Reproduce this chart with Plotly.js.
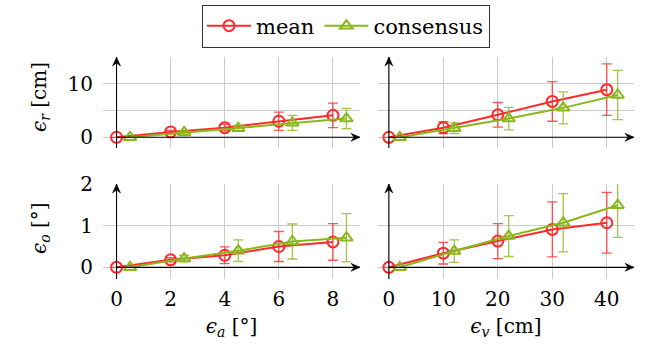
<!DOCTYPE html>
<html><head><meta charset="utf-8">
<script src="https://cdn.plot.ly/plotly-3.0.1.min.js"></script>
<style>html,body{margin:0;padding:0;background:#fff}</style>
</head><body>
<div id="chart" style="width:646px;height:346px"></div>
<script>
// x values (consensus drawn slightly shifted as in the reference)
const xA = [0, 2, 4, 6, 8];
const xAcons = [0.5, 2.5, 4.5, 6.5, 8.5];
const xV = [0, 10, 20, 30, 40];
const xVcons = [2, 12, 22, 32, 42];

// eps_r vs eps_a
const rA_mean = [0, 1.0, 1.8, 3.0, 4.1];
const rA_mean_err = [0, 0.3, 0.6, 1.7, 2.3];
const rA_cons = [0, 0.9, 1.7, 2.7, 3.5];
const rA_cons_err = [0, 0.3, 0.5, 1.4, 1.9];
// eps_r vs eps_v
const rV_mean = [0, 1.8, 4.2, 6.7, 8.9];
const rV_mean_err = [0, 1.1, 2.3, 3.7, 4.8];
const rV_cons = [0, 1.7, 3.5, 5.5, 7.9];
const rV_cons_err = [0, 1.0, 2.1, 3.0, 4.6];
// eps_o vs eps_a
const oA_mean = [0, 0.18, 0.29, 0.50, 0.61];
const oA_mean_err = [0, 0.05, 0.2, 0.36, 0.44];
const oA_cons = [0, 0.21, 0.40, 0.62, 0.71];
const oA_cons_err = [0, 0.08, 0.26, 0.42, 0.58];
// eps_o vs eps_v
const oV_mean = [0, 0.34, 0.63, 0.91, 1.07];
const oV_mean_err = [0, 0.26, 0.42, 0.66, 0.73];
const oV_cons = [0, 0.39, 0.75, 1.07, 1.49];
const oV_cons_err = [0, 0.27, 0.49, 0.70, 0.77];

const seriesNames = ['mean', 'consensus'];
const xTicksA = [0, 2, 4, 6, 8];
const xTicksV = [0, 10, 20, 30, 40];

const RED = '#ff2a2a', GREEN = '#8ab81c';
const RED_E = 'rgba(255,42,42,0.8)', GREEN_E = 'rgba(138,184,28,0.8)';

function tr(x, y, e, xa, ya, isMean, show) {
  return {
    x: x, y: y, xaxis: xa, yaxis: ya, type: 'scatter', mode: 'lines+markers',
    name: isMean ? seriesNames[0] : seriesNames[1], showlegend: show, legendgroup: isMean ? 'm' : 'c',
    line: {color: isMean ? RED : GREEN, width: 2},
    marker: {symbol: isMean ? 'circle-open' : 'triangle-up-open', size: 11,
             color: isMean ? RED : GREEN, line: {width: 2, color: isMean ? RED : GREEN}},
    error_y: {type: 'data', array: e, visible: true, color: isMean ? RED_E : GREEN_E, thickness: 1.3, width: 5}
  };
}

const data = [
  tr(xA, rA_mean, rA_mean_err, 'x', 'y', true, true),
  tr(xAcons, rA_cons, rA_cons_err, 'x', 'y', false, true),
  tr(xV, rV_mean, rV_mean_err, 'x2', 'y2', true, false),
  tr(xVcons, rV_cons, rV_cons_err, 'x2', 'y2', false, false),
  tr(xA, oA_mean, oA_mean_err, 'x3', 'y3', true, false),
  tr(xAcons, oA_cons, oA_cons_err, 'x3', 'y3', false, false),
  tr(xV, oV_mean, oV_mean_err, 'x4', 'y4', true, false),
  tr(xVcons, oV_cons, oV_cons_err, 'x4', 'y4', false, false)
];

const W = 646, H = 346;
const F = 'DejaVu Serif';
const GRID = '#cbcbcb';
const dL = [103 / W, 360 / W], dR = [378 / W, 634 / W];
const dT = [1 - 148 / H, 1 - 57 / H], dB = [1 - 279 / H, 1 - 184 / H];
const rangeA = [-0.5, 9], rangeV = [-2, 45];
const rangeR = [-2, 15], rangeO = [-0.28, 2];

function xax(dom, range, ticks, anchor, showLabels, title) {
  const a = {domain: dom, range: range, anchor: anchor, tickvals: ticks, ticktext: ticks.map(String),
    showticklabels: showLabels, showgrid: true, gridcolor: GRID, gridwidth: 1, zeroline: false,
    showline: false, ticks: '', ticklabelstandoff: 6, tickfont: {family: F, size: 20, color: '#000'}, fixedrange: true};
  if (title) a.title = {text: title, font: {family: F, size: 20, color: '#000'}, standoff: 8};
  return a;
}
function yax(dom, range, ticks, minor, anchor, showLabels) {
  return {domain: dom, range: range, anchor: anchor, tickvals: ticks, ticktext: ticks.map(String),
    showticklabels: showLabels, showgrid: true, gridcolor: GRID, gridwidth: 1, zeroline: false,
    showline: false, ticks: '', ticklabelstandoff: 9, tickfont: {family: F, size: 20, color: '#000'}, fixedrange: true,
    minor: {tickvals: minor, showgrid: true, gridcolor: GRID, gridwidth: 1, ticks: ''}};
}

// axis lines through the origin, with arrowheads (pixel-sized paths)
function axisShapes(xr, yr, xref, yref) {
  const ln = {type: 'line', xref: xref, yref: yref, line: {color: '#000', width: 1.1}, layer: 'above'};
  const head = {type: 'path', xref: xref, yref: yref, xsizemode: 'pixel', ysizemode: 'pixel',
    fillcolor: '#000', line: {color: '#000', width: 0.5}, layer: 'above'};
  return [
    Object.assign({}, ln, {x0: 0, x1: xr[1], y0: 0, y1: 0}),
    Object.assign({}, ln, {x0: 0, x1: 0, y0: yr[0], y1: yr[1]}),
    Object.assign({}, head, {xanchor: xr[1], yanchor: 0, path: 'M -9 -4 L 0 0 L -9 4 L -6 0 Z'}),
    Object.assign({}, head, {xanchor: 0, yanchor: yr[1], path: 'M -4 -9 L 0 0 L 4 -9 L 0 -6 Z'})
  ];
}

const shapes = [].concat(
  axisShapes(rangeA, rangeR, 'x', 'y'),
  axisShapes(rangeV, rangeR, 'x2', 'y2'),
  axisShapes(rangeA, rangeO, 'x3', 'y3'),
  axisShapes(rangeV, rangeO, 'x4', 'y4')
);

const annotations = [
  {text: '<i>ϵ</i><sub><i>r</i></sub> [cm]', xref: 'paper', yref: 'paper', x: 40 / W, y: 1 - 97 / H,
   textangle: -90, showarrow: false, font: {family: F, size: 20, color: '#000'}, xanchor: 'center', yanchor: 'middle'},
  {text: '<i>ϵ</i><sub><i>o</i></sub> [°]', xref: 'paper', yref: 'paper', x: 40 / W, y: 1 - 228 / H,
   textangle: -90, showarrow: false, font: {family: F, size: 20, color: '#000'}, xanchor: 'center', yanchor: 'middle'}
];

const layout = {
  width: W, height: H, margin: {l: 0, r: 0, t: 0, b: 0},
  paper_bgcolor: '#fff', plot_bgcolor: '#fff',
  font: {family: F, color: '#000'},
  showlegend: true,
  legend: {orientation: 'h', x: 346 / W, xanchor: 'center', y: 1 - 26 / H, yanchor: 'middle',
    bordercolor: '#333', borderwidth: 1, bgcolor: '#fff', font: {family: F, size: 21, color: '#000'},
    itemwidth: 44, tracegroupgap: 0},
  xaxis: xax(dL, rangeA, xTicksA, 'y', false),
  yaxis: yax(dT, rangeR, [0, 10], [5, 15], 'x', true),
  xaxis2: xax(dR, rangeV, xTicksV, 'y2', false),
  yaxis2: yax(dT, rangeR, [0, 10], [5, 15], 'x2', false),
  xaxis3: xax(dL, rangeA, xTicksA, 'y3', true, '<i>ϵ</i><sub><i>a</i></sub> [°]'),
  yaxis3: yax(dB, rangeO, [0, 1, 2], [], 'x3', true),
  xaxis4: xax(dR, rangeV, xTicksV, 'y4', true, '<i>ϵ</i><sub><i>v</i></sub> [cm]'),
  yaxis4: yax(dB, rangeO, [0, 1, 2], [], 'x4', false),
  shapes: shapes,
  annotations: annotations
};

Plotly.newPlot('chart', data, layout, {staticPlot: true, displayModeBar: false});
</script></body></html>
